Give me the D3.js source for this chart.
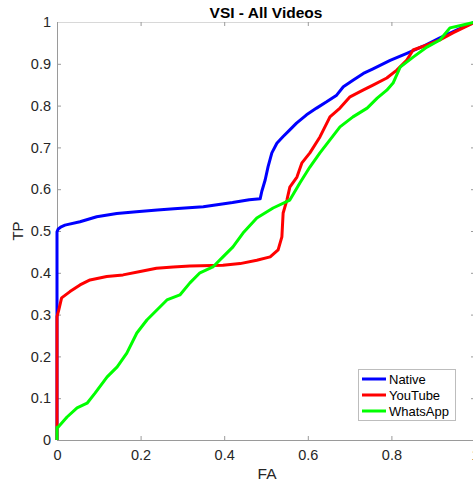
<!DOCTYPE html>
<html>
<head>
<meta charset="utf-8">
<script src="https://cdn.jsdelivr.net/npm/d3@7"></script>
<style>
  html, body { margin: 0; padding: 0; background: #fff; }
  svg { display: block; font-family: "Liberation Sans", Arial, Helvetica, sans-serif; }
</style>
</head>
<body>
<svg id="chart" width="473" height="484"></svg>
<script>
// ROC curves (FA vs TP) for the VSI metric over all videos
const seriesNames = ["Native", "YouTube", "WhatsApp"];
const seriesColors = ["#0000ff", "#ff0000", "#00ff00"];

const nativeFA = [0, 0, 0.003, 0.01, 0.019, 0.055, 0.095, 0.143, 0.19, 0.24, 0.28, 0.35, 0.42, 0.46, 0.486, 0.49, 0.498, 0.505, 0.514, 0.526, 0.541, 0.557, 0.573, 0.597, 0.621, 0.645, 0.669, 0.685, 0.709, 0.733, 0.756, 0.797, 0.837, 0.876, 0.916, 0.957, 1];
const nativeTP = [0, 0.498, 0.505, 0.51, 0.514, 0.522, 0.534, 0.542, 0.546, 0.55, 0.553, 0.558, 0.568, 0.575, 0.577, 0.595, 0.622, 0.654, 0.687, 0.71, 0.726, 0.742, 0.758, 0.778, 0.794, 0.809, 0.825, 0.845, 0.861, 0.877, 0.888, 0.908, 0.925, 0.942, 0.962, 0.981, 1];

const youtubeFA = [0, 0, 0.004, 0.011, 0.031, 0.055, 0.079, 0.119, 0.158, 0.199, 0.238, 0.278, 0.318, 0.397, 0.438, 0.478, 0.51, 0.529, 0.538, 0.541, 0.55, 0.557, 0.574, 0.586, 0.605, 0.629, 0.653, 0.677, 0.701, 0.732, 0.756, 0.789, 0.813, 0.837, 0.852, 0.885, 0.916, 0.947, 1];
const youtubeTP = [0, 0.295, 0.31, 0.34, 0.355, 0.371, 0.383, 0.391, 0.395, 0.403, 0.411, 0.414, 0.416, 0.418, 0.422, 0.43, 0.438, 0.455, 0.486, 0.543, 0.574, 0.605, 0.629, 0.663, 0.687, 0.725, 0.773, 0.794, 0.821, 0.837, 0.849, 0.866, 0.885, 0.909, 0.933, 0.945, 0.957, 0.974, 1];

const whatsappFA = [0, 0, 0.003, 0.024, 0.048, 0.072, 0.091, 0.12, 0.144, 0.167, 0.191, 0.215, 0.239, 0.263, 0.294, 0.318, 0.342, 0.373, 0.397, 0.421, 0.445, 0.478, 0.517, 0.557, 0.581, 0.605, 0.629, 0.653, 0.677, 0.708, 0.742, 0.766, 0.789, 0.804, 0.821, 0.852, 0.885, 0.916, 0.94, 0.971, 1];
const whatsappTP = [0, 0.03, 0.031, 0.055, 0.077, 0.088, 0.112, 0.151, 0.175, 0.208, 0.256, 0.287, 0.311, 0.335, 0.347, 0.376, 0.4, 0.414, 0.438, 0.462, 0.495, 0.531, 0.555, 0.574, 0.615, 0.653, 0.687, 0.718, 0.749, 0.773, 0.794, 0.818, 0.837, 0.854, 0.892, 0.916, 0.94, 0.957, 0.986, 0.993, 1];

const xTicks = [0, 0.2, 0.4, 0.6, 0.8, 1];
const yTicks = [0, 0.1, 0.2, 0.3, 0.4, 0.5, 0.6, 0.7, 0.8, 0.9, 1];

const series = [
  { name: seriesNames[0], color: seriesColors[0], fa: nativeFA, tp: nativeTP },
  { name: seriesNames[1], color: seriesColors[1], fa: youtubeFA, tp: youtubeTP },
  { name: seriesNames[2], color: seriesColors[2], fa: whatsappFA, tp: whatsappTP }
];

const svg = d3.select("#chart");
const plotL = 57, plotR = 475, plotT = 22, plotB = 440;
const x = d3.scaleLinear().domain([0, 1]).range([plotL, plotR]);
const y = d3.scaleLinear().domain([0, 1]).range([plotB, plotT]);

const axisColor = "#262626";
const boxColor = "#9a9a9a";

// axes with inward ticks on all four sides
const gx = svg.append("g").attr("transform", `translate(0,${plotB})`)
  .call(d3.axisBottom(x).tickValues(xTicks).tickSizeInner(-4).tickSizeOuter(0).tickPadding(10)
    .tickFormat(d => d3.format("~g")(d)));
const gy = svg.append("g").attr("transform", `translate(${plotL},0)`)
  .call(d3.axisLeft(y).tickValues(yTicks).tickSizeInner(-4).tickSizeOuter(0).tickPadding(6)
    .tickFormat(d => d3.format("~g")(d)));
const gxt = svg.append("g").attr("transform", `translate(0,${plotT})`)
  .call(d3.axisTop(x).tickValues(xTicks).tickSizeInner(-4).tickSizeOuter(0).tickFormat(""));
const gyr = svg.append("g").attr("transform", `translate(${plotR},0)`)
  .call(d3.axisRight(y).tickValues(yTicks).tickSizeInner(-4).tickSizeOuter(0).tickFormat(""));

[gx, gy, gxt, gyr].forEach(g => {
  g.select(".domain").attr("stroke", boxColor);
  g.selectAll(".tick line").attr("stroke", boxColor);
  g.selectAll(".tick text").attr("fill", axisColor).style("font-size", "14.5px").style("font-family", null);
});
gxt.select(".domain").attr("stroke", "#d8d8d8");
gyr.select(".domain").attr("stroke", "#d8d8d8");

// curves
const line = d3.line().x(d => x(d[0])).y(d => y(d[1]));
series.forEach(s => {
  svg.append("path")
    .datum(s.fa.map((v, i) => [v, s.tp[i]]))
    .attr("fill", "none")
    .attr("stroke", s.color)
    .attr("stroke-width", 3)
    .attr("stroke-linejoin", "round")
    .attr("d", line);
});

// title and axis labels
svg.append("text").attr("x", 266).attr("y", 17.5).attr("text-anchor", "middle")
  .style("font-size", "15.5px").style("font-weight", "bold").attr("fill", "#000")
  .text("VSI - All Videos");
svg.append("text").attr("x", 267).attr("y", 479).attr("text-anchor", "middle")
  .style("font-size", "15.5px").attr("fill", axisColor).text("FA");
svg.append("text").attr("transform", `translate(23,${(plotT + plotB) / 2}) rotate(-90)`).attr("text-anchor", "middle")
  .style("font-size", "15px").attr("fill", axisColor).text("TP");

// legend
const lg = svg.append("g");
lg.append("rect").attr("x", 358.5).attr("y", 369.5).attr("width", 97).attr("height", 51)
  .attr("fill", "#fff").attr("stroke", "#bdbdbd").attr("stroke-width", 1);
series.forEach((s, i) => {
  const yy = 379 + i * 16;
  lg.append("line").attr("x1", 362).attr("x2", 386).attr("y1", yy).attr("y2", yy)
    .attr("stroke", s.color).attr("stroke-width", 3);
  lg.append("text").attr("x", 389).attr("y", yy + 4.5).style("font-size", "13px")
    .attr("fill", "#000").text(s.name);
});
</script>
</body>
</html>
